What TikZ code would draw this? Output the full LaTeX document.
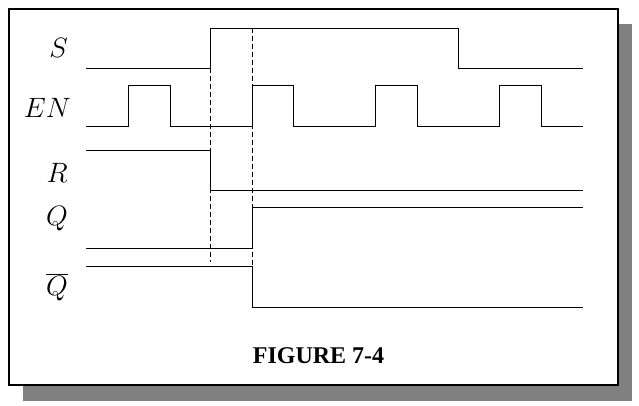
\documentclass[tikz,border=0pt]{standalone}
\usepackage{fix-cm}
\usepackage{fontspec}
\setmainfont{Liberation Serif}
\begin{document}
\begin{tikzpicture}[x=1pt,y=-1pt,
  sig/.style={line width=1pt,line join=miter},
  guide/.style={line width=0.9pt,dash pattern=on 5pt off 3pt},
  lbl/.style={anchor=base east,inner sep=0pt,font=\fontsize{28}{30}\selectfont},
  caption/.style={anchor=base,inner sep=0pt,font=\fontsize{24}{26}\selectfont\bfseries}]
\useasboundingbox (0,0) rectangle (639,405);
% shadow and frame
\fill[black!50] (23,24) rectangle (632,401);
\filldraw[fill=white,draw=black,line width=1.8pt] (9,9) rectangle (618,385);
% labels
\node[lbl] (S) at (68,57) {$S$};
\node[lbl] (EN) at (71,117) {$EN$};
\node[lbl] (R) at (68,182) {$R$};
\node[lbl] (Q) at (68,225) {$Q$};
\node[lbl] (Qb) at (68,295) {$\overline{Q}$};
% guides
\draw[guide] (210,28) -- (210,262);
\draw[guide] (252,28) -- (252,266);
% S
\draw[sig] (86,68) -- (210,68) -- (210,28) -- (458,28) -- (458,68) -- (583,68);
% EN
\draw[sig] (86,126) -- (128,126) -- (128,85) -- (170,85) -- (170,126)
  -- (252,126) -- (252,85) -- (293,85) -- (293,126)
  -- (375,126) -- (375,85) -- (417,85) -- (417,126)
  -- (499,126) -- (499,85) -- (541,85) -- (541,126) -- (583,126);
% R
\draw[sig] (86,150) -- (210,150) -- (210,190) -- (583,190);
% Q
\draw[sig] (86,248) -- (252,248) -- (252,207) -- (583,207);
% Qbar
\draw[sig] (86,266) -- (252,266) -- (252,307) -- (583,307);
% caption
\node[caption] (cap) at (318.5,363) {FIGURE 7-4};
\end{tikzpicture}
\end{document}
